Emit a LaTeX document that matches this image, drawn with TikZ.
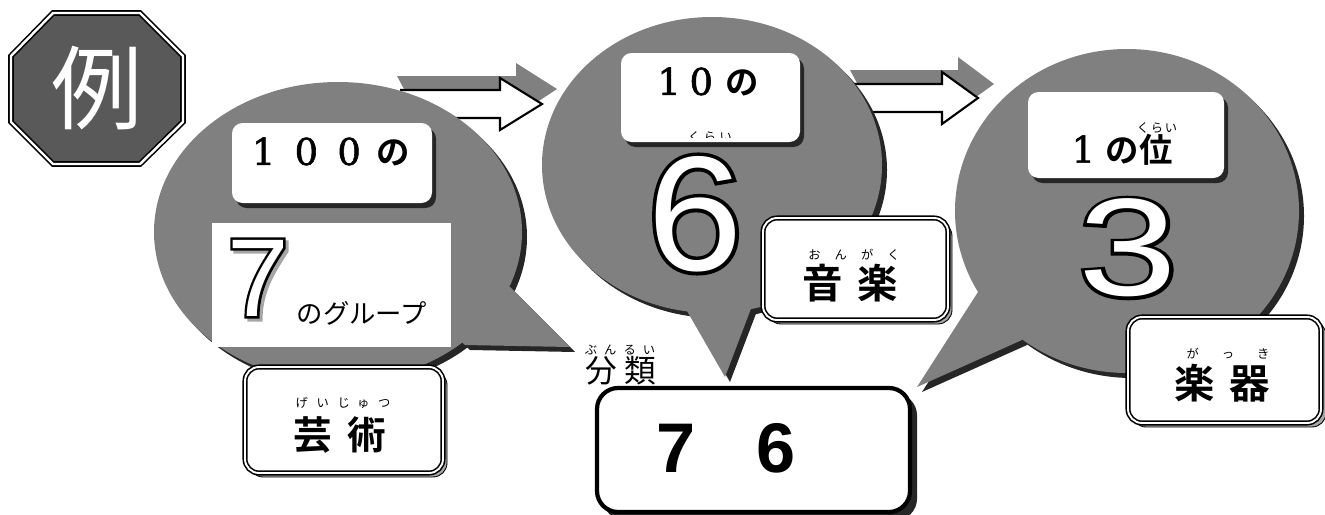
\documentclass[tikz,border=0pt]{standalone}
\usepackage{fontspec}
\setmainfont{Liberation Sans}
\newfontfamily\jp{Noto Sans CJK JP}
\newfontfamily\jpb{Noto Sans CJK JP Bold}
\newfontfamily\serifnum{DejaVu Serif}[FakeBold=1.5]
\newfontfamily\digitline{Liberation Sans}[FakeBold=4.5]
\usepackage{graphicx}

\definecolor{bubblegray}{HTML}{808080}
\definecolor{shadowdark}{HTML}{262626}
\definecolor{octfill}{HTML}{595959}
\definecolor{boxshade}{HTML}{A6A6A6}

\tikzset{
  bubble/.style={fill=bubblegray},
  bubbleshade/.style={fill=shadowdark},
  octagon/.style={draw=black, double=white, line width=0.9pt, double distance=1.4pt, fill=octfill},
  labelbox/.style={fill=white, rounded corners=6pt},
  labelshade/.style={fill=shadowdark, rounded corners=6pt},
  wordbox/.style={draw=black, double=white, line width=0.9pt, double distance=1.1pt, fill=white, rounded corners=8pt},
  wordshade/.style={draw=black, line width=0.5pt, fill=boxshade, rounded corners=8pt},
  answerbox/.style={draw=black, line width=2.4pt, fill=white, rounded corners=12pt},
  answershade/.style={fill=shadowdark, rounded corners=12pt},
  blockarrow/.style={draw=black, line width=1.2pt, fill=white, line join=miter},
  arrowshade/.style={fill=bubblegray},
  ruby/.style={font=\jp\fontsize{7}{8}\selectfont, inner sep=0pt},
  word/.style={font=\jpb\fontsize{22}{24}\selectfont, inner sep=0pt},
  placetext/.style={inner sep=0pt},
  digitedge/.style={inner sep=0pt, text=black},
  digitface/.style={inner sep=0pt, text=white},
}

\begin{document}
\begin{tikzpicture}[x=0.02cm,y=-0.02cm]
\useasboundingbox (0,0) rectangle (1325,514);

% sign
\draw[octagon] (53,13) -- (140,13) -- (183,56) -- (183,122) -- (140,164) -- (53,164) -- (11,122) -- (11,56) -- cycle;
\node[placetext, text=white, font=\jp\fontsize{52}{52}\selectfont] (rei) at (97,88) {例};

% arrows
\fill[arrowshade] (397,76) -- (516,76) -- (516,63) -- (557,89) -- (516,116) -- (412,104) -- cycle;
\draw[blockarrow] (400,90) -- (500,90) -- (500,78) -- (542,104) -- (500,130) -- (500,118) -- (400,118);
\fill[arrowshade] (850,70) -- (958,70) -- (958,57) -- (994,84) -- (958,110) -- (865,98) -- cycle;
\draw[blockarrow] (845,84) -- (942,84) -- (942,72) -- (978,98) -- (942,124) -- (942,112) -- (845,112);

% hundreds
\begin{scope}[shift={(5,5)}]
\fill[bubbleshade] (338,232) ellipse [x radius=184, y radius=150];
\fill[bubbleshade] (420,300) -- (510,287) -- (570,347) -- (465,345) -- cycle;
\end{scope}
\fill[bubble] (338,232) ellipse [x radius=184, y radius=150];
\fill[bubble] (420,300) -- (510,287) -- (570,347) -- (465,345) -- cycle;
\fill[labelshade] (236,128) rectangle (436,208);
\fill[labelbox] (232,123) rectangle (432,203);
\node[placetext] (hundred) at (331,152) {{\serifnum\fontsize{21}{21}\selectfont 1\hspace{11pt}0\hspace{11pt}0}\hspace{9pt}{\jpb\fontsize{19}{19}\selectfont の}};
\fill[white] (212,223) rectangle (451,347);
\node[digitedge, text=boxshade, font=\digitline\fontsize{63}{63}\selectfont] (sevenshade) at (261,281) {7};
\node[digitedge, font=\digitline\fontsize{63}{63}\selectfont] (sevenedge) at (258,278) {7};
\node[digitface, font=\fontsize{63}{63}\selectfont] (seven) at (258,278) {7};
\node[placetext, font=\jp\fontsize{15}{16}\selectfont] (group) at (362,313) {のグループ};
\draw[wordshade] (249,371) rectangle (447,477);
\draw[wordbox] (245,367) rectangle (443,473);
\node[ruby] (geijutsu) at (343,403) {げ\hspace{5pt}い\hspace{5pt}じ\hspace{4pt}ゅ\hspace{5pt}つ};
\node[word] (art) at (340,435) {芸\hspace{9pt}術};

% tens
\begin{scope}[shift={(5,5)}]
\fill[bubbleshade] (712,165) ellipse [x radius=170, y radius=148];
\fill[bubbleshade] (680,290) -- (740,290) -- (752,306) -- (725,377) -- (687,311) -- cycle;
\end{scope}
\fill[bubble] (712,165) ellipse [x radius=170, y radius=148];
\fill[bubble] (680,290) -- (740,290) -- (752,306) -- (725,377) -- (687,311) -- cycle;
\fill[labelshade] (625,58) rectangle (804,147);
\fill[labelbox] (621,53) rectangle (800,142);
\node[placetext] (ten) at (708,82) {{\serifnum\fontsize{21}{21}\selectfont 1\hspace{5pt}0}\hspace{7pt}{\jpb\fontsize{19}{19}\selectfont の}};
\begin{scope}
\clip (640,120) rectangle (780,137);
\node[ruby] (kuraicut) at (710,137) {く\hspace{2pt}ら\hspace{2pt}い};
\end{scope}
\node[digitedge, font=\digitline\fontsize{93}{93}\selectfont] (sixedge) at (695,214) {\scalebox{1.05}[1]{6}};
\node[digitface, font=\fontsize{93}{93}\selectfont] (six) at (695,214) {\scalebox{1.05}[1]{6}};
\draw[wordshade] (767,222) rectangle (952,324);
\draw[wordbox] (763,218) rectangle (948,320);
\node[ruby] (ongaku) at (854,255) {お\hspace{8pt}ん\hspace{8pt}が\hspace{8pt}く};
\node[word, font=\jpb\fontsize{23}{24}\selectfont] (music) at (850,283) {音\hspace{8pt}楽};

% ones
\begin{scope}[shift={(5,5)}]
\fill[bubbleshade] (1127,211) ellipse [x radius=172, y radius=162];
\fill[bubbleshade] (1000,280) -- (978,292) -- (917,387) -- (1022,340) -- (1040,320) -- cycle;
\end{scope}
\fill[bubble] (1127,211) ellipse [x radius=172, y radius=162];
\fill[bubble] (1000,280) -- (978,292) -- (917,387) -- (1022,340) -- (1040,320) -- cycle;
\fill[labelshade] (1032,97) rectangle (1228,183);
\fill[labelbox] (1028,92) rectangle (1224,178);
\node[placetext] (one) at (1122,150) {{\serifnum\fontsize{21}{21}\selectfont 1}\hspace{6pt}{\jpb\fontsize{19}{19}\selectfont の位}};
\node[ruby] (kurai) at (1157,128) {く\hspace{1pt}ら\hspace{1pt}い};
\node[digitedge, font=\digitline\fontsize{79}{79}\selectfont] (threeedge) at (1128,248) {\scalebox{1.28}[1]{3}};
\node[digitface, font=\fontsize{79}{79}\selectfont] (three) at (1128,248) {\scalebox{1.28}[1]{3}};
\draw[wordshade] (1132,321) rectangle (1326,427);
\draw[wordbox] (1128,317) rectangle (1321,423);
\node[ruby] (gakki) at (1228,354) {が\hspace{13pt}っ\hspace{13pt}き};
\node[word, font=\jpb\fontsize{23}{24}\selectfont] (instrument) at (1222,383) {楽\hspace{8pt}器};

% answer
\node[ruby] (bunrui) at (620,350) {ぶ\hspace{4pt}ん\hspace{4pt}る\hspace{4pt}い};
\node[placetext, font=\jp\fontsize{18}{20}\selectfont] (classify) at (621,371) {分\hspace{4pt}類};
\fill[answershade] (603,394) rectangle (917,520);
\draw[answerbox] (597,388) rectangle (910,512);
\node[placetext, font=\bfseries\fontsize{40}{40}\selectfont] (answer) at (726,448) {7\hspace{35pt}6};
\end{tikzpicture}
\end{document}
